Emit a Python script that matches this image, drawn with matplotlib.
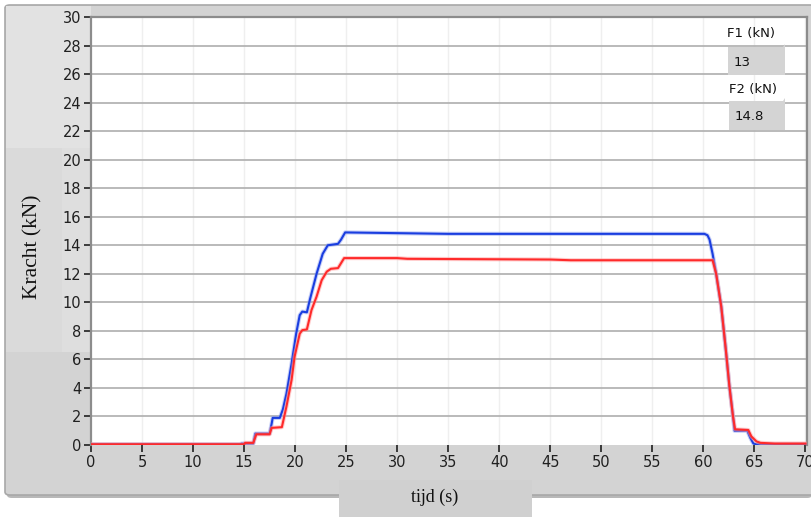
import matplotlib
matplotlib.use("Agg")
import numpy as np
from matplotlib import pyplot as plt
from matplotlib.patches import FancyBboxPatch, Rectangle, Polygon

# Donnees (temps en s, force en kN)
t_f2 = [0, 14.6, 14.75, 15.9, 16.1, 17.5, 17.7, 17.8, 18.5, 18.8, 19.15, 19.65,
        20.1, 20.45, 20.7, 21.15, 21.45, 22.1, 22.7, 23.2, 24.2, 24.5, 24.9,
        30, 35, 45, 60.1, 60.4, 60.6, 60.9, 61.25, 61.75, 62.2, 62.55, 62.9,
        63.05, 63.5, 64.3, 64.6, 64.9, 65.2, 70]
f2 = [0.05, 0.05, 0.1, 0.1, 0.8, 0.8, 1.5, 1.9, 1.9, 2.5, 3.6, 5.7,
      7.8, 9.1, 9.35, 9.3, 10.2, 12.0, 13.4, 14.0, 14.1, 14.4, 14.9,
      14.85, 14.8, 14.8, 14.8, 14.7, 14.4, 13.4, 12.0, 9.7, 6.65, 4.1, 2.0,
      1.0, 1.0, 1.0, 0.5, 0.1, 0.05, 0.05]

t_f1 = [0, 15.0, 15.1, 15.9, 16.2, 17.5, 17.7, 18.7, 19.15, 19.65, 19.95, 20.45,
        20.7, 21.15, 21.6, 22.1, 22.6, 23.1, 23.5, 24.2, 24.8, 30, 31, 45, 47,
        60.9, 61.25, 61.75, 62.2, 62.55, 62.9, 63.1, 64.4, 64.7, 65.2, 65.6, 67, 70]
f1 = [0.05, 0.05, 0.15, 0.15, 0.75, 0.75, 1.2, 1.25, 2.7, 4.55, 6.2, 7.8,
      8.05, 8.1, 9.45, 10.4, 11.55, 12.15, 12.35, 12.4, 13.1, 13.1, 13.05, 13.0, 12.95,
      12.95, 12.0, 9.7, 6.65, 4.1, 2.0, 1.1, 1.05, 0.6, 0.25, 0.15, 0.1, 0.1]

F1_val = "13"
F2_val = "14.8"
xticks = np.arange(0, 71, 5)
yticks = np.arange(0, 31, 2)

W, H = 812, 517
fig = plt.figure(figsize=(W / 100, H / 100), dpi=100)
fig.patch.set_facecolor("white")

def fx(px):
    return px / W

def fy(py):
    return 1 - py / H

def rect(x0, y0, x1, y1, **kw):
    r = Rectangle((fx(x0), fy(y1)), fx(x1) - fx(x0), fy(y0) - fy(y1),
                  transform=fig.transFigure, zorder=-1, **kw)
    fig.patches.append(r)

# panneau gris
shadow = FancyBboxPatch((fx(7), fy(498)), fx(812) - fx(7), fy(7) - fy(498),
                        boxstyle="round,pad=0,rounding_size=0.006",
                        transform=fig.transFigure, fc="#b8b8b8", ec="none", zorder=-3)
fig.patches.append(shadow)
panel = FancyBboxPatch((fx(5), fy(495)), fx(815) - fx(5), fy(5) - fy(495),
                       boxstyle="round,pad=0,rounding_size=0.006",
                       transform=fig.transFigure, fc="#d3d3d3", ec="#a8a8a8", lw=1.2,
                       zorder=-2)
fig.patches.append(panel)
rect(6, 6, 91, 148, fc="#e2e2e2", ec="none")
rect(62, 148, 91, 352, fc="#dedede", ec="none")
rect(6, 148, 62, 352, fc="#dadada", ec="none")
rect(339, 480, 532, 517, fc="#d0d0d0", ec="none")

ax = fig.add_axes([fx(91), fy(445), fx(807) - fx(91), fy(17) - fy(445)])
ax.set_facecolor("white")
ax.set_xlim(0, 70.15)
ax.set_ylim(0, 30)

for x in xticks[1:]:
    ax.axvline(x, color="#efefef", lw=1, zorder=0)
for y in yticks[1:]:
    ax.axhline(y, color="#b4b4b4", lw=1.3, zorder=0)

# lueur + ligne
ax.plot(t_f2, f2, color="#8fa0f0", lw=3.0, alpha=0.5, zorder=2)
ax.plot(t_f2, f2, color="#1a3ee0", lw=1.5, zorder=3)
ax.plot(t_f1, f1, color="#ff9a9a", lw=3.0, alpha=0.5, zorder=4)
ax.plot(t_f1, f1, color="#ff2a2a", lw=1.5, zorder=5)

ax.set_xticks(xticks)
ax.set_yticks(yticks)
ax.tick_params(axis="both", direction="out", length=5, width=1.2, color="#202020",
               labelsize=10.5, labelcolor="#202020", pad=2)

for s in ["left", "top", "right"]:
    ax.spines[s].set_color("#8c8c8c")
    ax.spines[s].set_linewidth(1.6)
ax.spines["bottom"].set_visible(False)

fig.text(fx(33), fy(247), "Kracht (kN)", rotation=90, ha="center", va="center",
         family="Liberation Serif", fontsize=15.5, color="#111111")
fig.text(fx(435), fy(497), "tijd (s)", ha="center", va="center",
         family="Liberation Serif", fontsize=13, color="#111111")

# indicateurs F1 / F2
def indicator(x0, y0, x1, y1, txt):
    pts = [(fx(x0), fy(y1)), (fx(x0), fy(y0)), (fx(x1 - 2), fy(y0)),
           (fx(x1), fy(y0 - 3)), (fx(x1), fy(y1))]
    fig.patches.append(Polygon(pts, closed=True, transform=fig.transFigure,
                               fc="#d4d4d4", ec="none", zorder=1))
    fig.text(fx(x0 + 6), fy((y0 + y1) / 2 + 1), txt, ha="left", va="center",
             family="DejaVu Sans", fontsize=9.5, color="#111111")

fig.text(fx(727), fy(33), "F1 (kN)", ha="left", va="center",
         family="DejaVu Sans", fontsize=9.5, color="#111111")
indicator(728, 47, 785, 75, F1_val)
fig.text(fx(729), fy(89), "F2 (kN)", ha="left", va="center",
         family="DejaVu Sans", fontsize=9.5, color="#111111")
indicator(729, 101, 785, 130, F2_val)

fig.savefig("out.png", dpi=100)
